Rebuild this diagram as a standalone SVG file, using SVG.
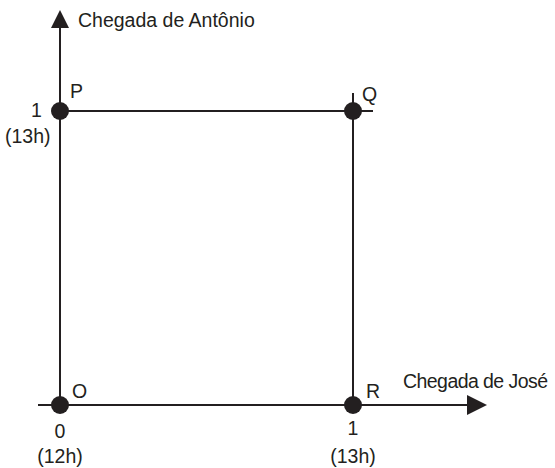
<svg xmlns="http://www.w3.org/2000/svg" width="555" height="468" viewBox="0 0 555 468">
<style>
.ln{stroke:#231f20;stroke-width:2;fill:none}
.dot{fill:#231f20}
text{font-family:"Liberation Sans",Arial,sans-serif;font-size:19.5px;fill:#231f20}
.c{text-anchor:middle}
</style>
<rect width="555" height="468" fill="#fff"/>
<g id="connectors">
<line class="ln" x1="60" y1="413" x2="60" y2="26"/>
<polygon class="dot" points="60,10 51,28 69,28"/>
<line class="ln" x1="38" y1="405" x2="470" y2="405"/>
<polygon class="dot" points="487,405 467,395 467,415"/>
<line class="ln" x1="60" y1="111" x2="373" y2="111"/>
<line class="ln" x1="353" y1="93" x2="353" y2="405"/>
</g>
<g id="axis-y-label"><text x="78" y="27">Chegada de Antônio</text></g>
<g id="axis-x-label"><text x="403" y="388" textLength="145">Chegada de José</text></g>
<g id="P"><circle class="dot" cx="60" cy="111" r="9"/><text x="70" y="98">P</text><text x="31" y="117">1</text><text x="5" y="143">(13h)</text></g>
<g id="Q"><circle class="dot" cx="353" cy="111" r="9"/><text x="362" y="101">Q</text></g>
<g id="O"><circle class="dot" cx="60" cy="405" r="9"/><text x="72" y="398">O</text><text class="c" x="60" y="438">0</text><text class="c" x="60" y="463">(12h)</text></g>
<g id="R"><circle class="dot" cx="353" cy="405" r="9"/><text x="366" y="398">R</text><text class="c" x="353" y="435">1</text><text class="c" x="353" y="463">(13h)</text></g>
</svg>
